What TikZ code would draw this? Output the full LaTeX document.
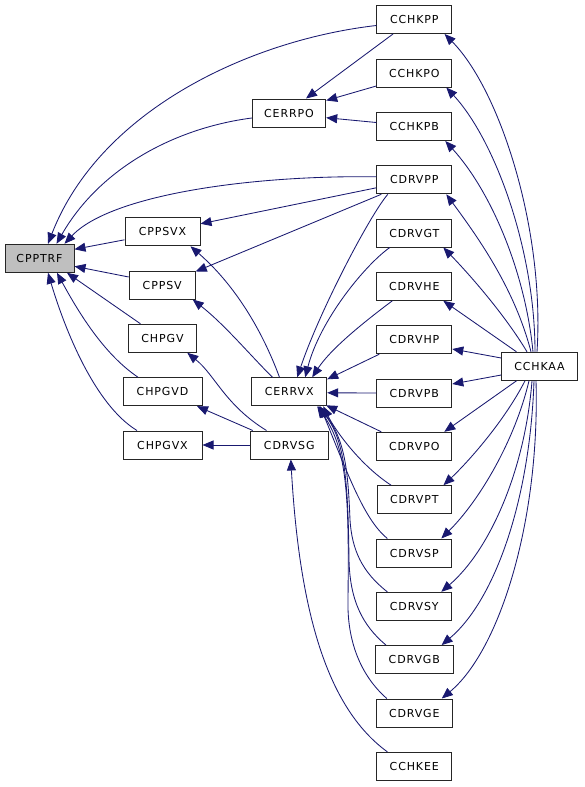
\documentclass[tikz,border=0pt]{standalone}
\usepackage{fontspec}
\newfontfamily\dfont[LetterSpace=8]{DejaVu Sans}
\usetikzlibrary{arrows.meta,calc}
\definecolor{edgec}{HTML}{191970}
\begin{document}
\begin{tikzpicture}[x=1pt,y=-1pt,
  box/.style={draw=black!85,line width=1pt,fill=white,minimum height=28pt,minimum width=75pt,inner sep=0pt,font=\dfont\fontsize{11pt}{13pt}\selectfont},
  edge/.style={draw=edgec,line width=0.85pt,-{Triangle[length=11pt,width=9pt]}}]
\useasboundingbox (0,0) rectangle (584,787);
% nodes
\node[box,fill=black!25,minimum width=69pt] (CPPTRF) at (39.5,258.3) {CPPTRF};
\node[box] (CCHKPP) at (414.3,19.5) {CCHKPP};
\node[box] (CCHKPO) at (414.3,73) {CCHKPO};
\node[box,minimum width=73.4pt] (CERRPO) at (289,113) {CERRPO};
\node[box] (CCHKPB) at (414.3,126.5) {CCHKPB};
\node[box] (CDRVPP) at (414.3,179.8) {CDRVPP};
\node[box] (CPPSVX) at (162.5,231.8) {CPPSVX};
\node[box] (CDRVGT) at (414.3,233) {CDRVGT};
\node[box,minimum width=66pt] (CPPSV) at (162.2,285) {CPPSV};
\node[box] (CDRVHE) at (414.3,286.3) {CDRVHE};
\node[box,minimum width=68pt] (CHPGV) at (162.5,338.3) {CHPGV};
\node[box] (CDRVHP) at (414.3,339.7) {CDRVHP};
\node[box,minimum width=75.6pt] (CCHKAA) at (539.5,366.3) {CCHKAA};
\node[box] (CERRVX) at (289.2,391.8) {CERRVX};
\node[box,minimum width=79pt] (CHPGVD) at (162.5,391.7) {CHPGVD};
\node[box] (CDRVPB) at (414.3,393) {CDRVPB};
\node[box,minimum width=79pt] (CHPGVX) at (162.5,445) {CHPGVX};
\node[box,minimum width=78pt] (CDRVSG) at (289.3,445) {CDRVSG};
\node[box] (CDRVPO) at (414.3,446.3) {CDRVPO};
\node[box,minimum width=73.4pt] (CDRVPT) at (414.3,499.7) {CDRVPT};
\node[box] (CDRVSP) at (414.3,553) {CDRVSP};
\node[box] (CDRVSY) at (414.3,606.3) {CDRVSY};
\node[box,minimum width=77.6pt] (CDRVGB) at (414.3,659.6) {CDRVGB};
\node[box,minimum width=76pt] (CDRVGE) at (414.3,713) {CDRVGE};
\node[box] (CCHKEE) at (414.3,766.3) {CCHKEE};
% edges into CPPTRF
\draw[edge] ($(CCHKPP.west)+(0,6)$) .. controls (250,40) and (100,110) .. ($(CPPTRF.north)+(8.5,0)$);
\draw[edge] ($(CERRPO.west)+(0,5)$) .. controls (175,128) and (100,168) .. ($(CPPTRF.north)+(17,0)$);
\draw[edge] ($(CDRVPP.west)+(0,-3)$) .. controls (250,175) and (110,195) .. ($(CPPTRF.north)+(25,0)$);
\draw[edge] ($(CPPSVX.west)+(0,8)$) -- ($(CPPTRF.east)+(0,-9)$);
\draw[edge] ($(CPPSV.west)+(0,-8)$) -- ($(CPPTRF.east)+(0,8)$);
\draw[edge] ($(CHPGV.north)+(-22,0)$) -- ($(CPPTRF.south)+(27.5,0)$);
\draw[edge] ($(CHPGVD.north)+(-24.5,0)$) .. controls (105,355) and (80,315) .. ($(CPPTRF.south)+(17.5,0)$);
\draw[edge] ($(CHPGVX.north)+(-25.5,0)$) .. controls (95,405) and (65,330) .. ($(CPPTRF.south)+(8.5,0)$);
% into CERRPO
\draw[edge] ($(CCHKPP.south)+(-21.3,0)$) -- ($(CERRPO.north)+(17,0)$);
\draw[edge] ($(CCHKPO.west)+(0,13)$) -- ($(CERRPO.north east)+(0,2)$);
\draw[edge] ($(CCHKPB.west)+(0,-4)$) -- ($(CERRPO.east)+(0,4.7)$);
% from CDRVPP
\draw[edge] ($(CDRVPP.west)+(0,8)$) -- ($(CPPSVX.east)+(0,-8)$);
\draw[edge] ($(CDRVPP.south west)+(5,0)$) -- ($(CPPSV.north east)+(0,1)$);
\draw[edge] ($(CDRVPP.south west)+(11.5,0)$) .. controls (370,215) and (320,310) .. ($(CERRVX.north)+(8,0)$);
% into CERRVX
\draw[edge] ($(CDRVGT.south west)+(13.5,0)$) .. controls (365,265) and (320,320) .. ($(CERRVX.north)+(16,0)$);
\draw[edge] ($(CDRVHE.south west)+(16,0)$) .. controls (360,325) and (330,350) .. ($(CERRVX.north)+(23,0)$);
\draw[edge] ($(CDRVHP.south west)+(3,0)$) -- ($(CERRVX.north east)+(0,2)$);
\draw[edge] (CDRVPB.west) -- ($(CERRVX.east)+(0,1)$);
\draw[edge] ($(CDRVPO.north west)+(5,0)$) -- ($(CERRVX.south east)+(-1,-1)$);
\draw[edge] ($(CDRVPT.north west)+(14,0)$) .. controls (360,465) and (335,430) .. ($(CERRVX.south east)+(-4,0)$);
\draw[edge] ($(CDRVSP.north west)+(11,0)$) .. controls (365,520) and (350,480) .. ($(CERRVX.south east)+(-7,0)$);
\draw[edge] ($(CDRVSY.north west)+(11,0)$) .. controls (362,572) and (352,550) .. (350,520) .. controls (348,470) and (345,440) .. ($(CERRVX.south east)+(-8,0)$);
\draw[edge] ($(CDRVGB.north west)+(11,0)$) .. controls (362,625) and (350,600) .. (349,560) .. controls (348,480) and (345,440) .. ($(CERRVX.south east)+(-9,0)$);
\draw[edge] ($(CDRVGE.north west)+(11,0)$) .. controls (360,675) and (347,640) .. (348,600) .. controls (349,500) and (348,450) .. ($(CERRVX.south east)+(-10,0)$);
% CDRVSG group
\draw[edge] ($(CCHKEE.north west)+(11,0)$) .. controls (330,710) and (300,620) .. ($(CDRVSG.south)+(1.5,0)$);
\draw[edge] ($(CDRVSG.north west)+(16.7,0)$) .. controls (225,405) and (215,375) .. ($(CHPGV.south east)+(-9.7,0)$);
\draw[edge] ($(CDRVSG.north west)+(3,0)$) -- ($(CHPGVD.south east)+(-5.5,0)$);
\draw[edge] (CDRVSG.west) -- (CHPGVX.east);
% from CERRVX up
\draw[edge] ($(CERRVX.north west)+(28.3,0)$) .. controls (262,330) and (235,285) .. ($(CPPSVX.south east)+(-10,0)$);
\draw[edge] ($(CERRVX.north west)+(21.3,0)$) .. controls (250,355) and (225,325) .. ($(CPPSV.south east)+(-3,0)$);
% from CCHKAA
\draw[edge] ($(CCHKAA.north)+(-2.5,0)$) .. controls (545,230) and (500,90) .. ($(CCHKPP.south east)+(-7.7,0)$);
\draw[edge] ($(CCHKAA.north)+(-4.5,0)$) .. controls (535,250) and (495,140) .. ($(CCHKPO.south east)+(-6,0)$);
\draw[edge] ($(CCHKAA.north)+(-6.5,0)$) .. controls (525,270) and (490,190) .. ($(CCHKPB.south east)+(-7,0)$);
\draw[edge] ($(CCHKAA.north)+(-8.5,0)$) .. controls (515,290) and (480,240) .. ($(CDRVPP.south east)+(-6,0)$);
\draw[edge] ($(CCHKAA.north)+(-12.5,0)$) .. controls (505,315) and (470,275) .. ($(CDRVGT.south east)+(-9,0)$);
\draw[edge] ($(CCHKAA.north west)+(15.3,0)$) -- ($(CDRVHE.south east)+(-9,0)$);
\draw[edge] ($(CCHKAA.west)+(0,-8.3)$) -- ($(CDRVHP.east)+(0,9.3)$);
\draw[edge] ($(CCHKAA.west)+(0,8.7)$) -- ($(CDRVPB.east)+(0,-9)$);
\draw[edge] ($(CCHKAA.south west)+(15.3,0)$) -- ($(CDRVPO.north east)+(-8,0)$);
\draw[edge] ($(CCHKAA.south)+(-14.5,0)$) .. controls (505,420) and (470,460) .. ($(CDRVPT.north east)+(-8,0)$);
\draw[edge] ($(CCHKAA.south)+(-10.5,0)$) .. controls (515,440) and (480,500) .. ($(CDRVSP.north east)+(-11,0)$);
\draw[edge] ($(CCHKAA.south)+(-7.5,0)$) .. controls (525,470) and (490,550) .. ($(CDRVSY.north east)+(-11,0)$);
\draw[edge] ($(CCHKAA.south)+(-5.5,0)$) .. controls (530,500) and (495,600) .. ($(CDRVGB.north east)+(-12,0)$);
\draw[edge] ($(CCHKAA.south)+(-3.5,0)$) .. controls (540,520) and (500,650) .. ($(CDRVGE.north east)+(-11,0)$);
\end{tikzpicture}
\end{document}
